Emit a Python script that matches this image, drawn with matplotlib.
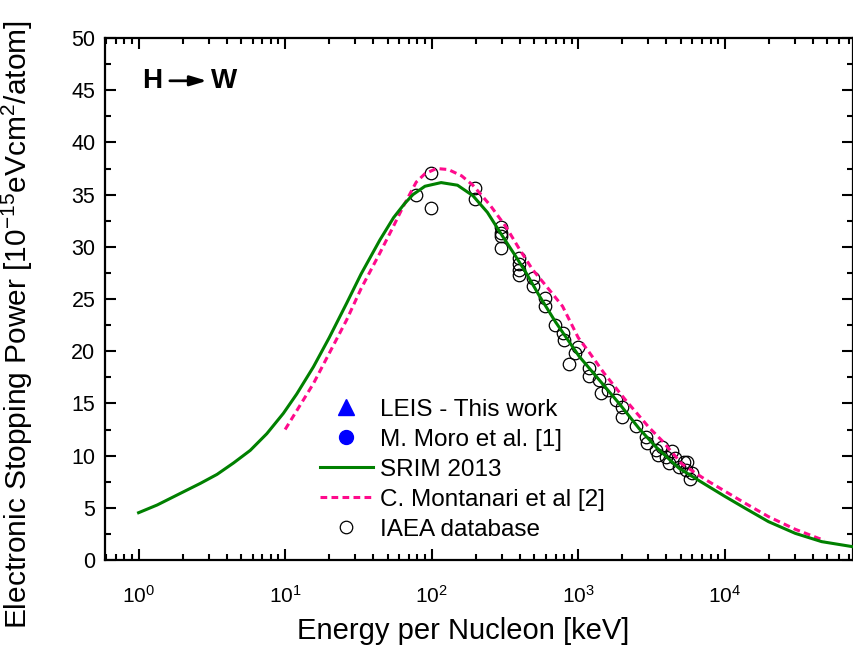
import numpy as np
import matplotlib
matplotlib.use("Agg")
import matplotlib.pyplot as plt
from matplotlib.ticker import MultipleLocator, LogLocator

plt.rcParams["font.family"] = ["Liberation Sans", "DejaVu Sans"]
plt.rcParams["mathtext.fontset"] = "custom"
plt.rcParams["mathtext.rm"] = "Liberation Sans"
plt.rcParams["mathtext.it"] = "Liberation Sans:italic"
plt.rcParams["mathtext.bf"] = "Liberation Sans:bold"

# SRIM 2013 curve (keV/u, 1e-15 eV cm2/atom)
srim_e = [1, 1.34, 2.03, 2.64, 3.43, 4.45, 5.78, 7.5, 9.73, 12, 15.6, 20, 26.3, 33, 44.3,
          55, 65, 74.5, 90, 116, 150, 191, 240, 305, 370, 441, 543, 700, 1016, 1400,
          1900, 2600, 3380, 4860, 6500, 10000, 13800, 19900, 30300, 45800, 75000]
srim_s = [4.53, 5.27, 6.54, 7.34, 8.2, 9.3, 10.5, 12.1, 14.05, 15.9, 18.5, 21.3, 24.6, 27.4, 30.65,
          32.8, 34.1, 35.0, 35.8, 36.15, 35.9, 34.9, 33.3, 31.0, 29.2, 27.5, 25.3, 22.8, 19.5, 17.2,
          15.0, 12.6, 10.85, 8.8, 7.7, 6.1, 4.95, 3.67, 2.55, 1.76, 1.27]

# C. Montanari et al.
mont_e = [10, 12, 15.6, 20, 26.3, 33, 44.3, 55, 63.6, 78.5, 90, 108, 130, 160, 191, 250,
          322, 400, 489, 600, 782, 1000, 1188, 1500, 2110, 3040, 3750, 5100, 7390, 10000,
          13800, 19900, 30300, 43600, 48000]
mont_s = [12.5, 14.3, 16.9, 19.8, 23.0, 26.0, 29.4, 32.0, 33.8, 36.2, 37.0, 37.5, 37.4, 36.8, 35.9, 34.0,
          31.9, 29.7, 27.8, 26.3, 24.3, 21.3, 19.9, 17.9, 15.3, 12.7, 11.4, 9.2, 7.7, 6.6,
          5.43, 4.15, 2.94, 2.08, 1.9]

# IAEA database points
iaea_e = [78.5, 99, 99, 198, 198, 297, 297, 297, 297, 397, 397, 397, 397, 494, 494,
          593, 593, 690, 782, 805, 869, 950, 990, 1188, 1188, 1390, 1430, 1590, 1800,
          2000, 2000, 2470, 2890, 2960, 3380, 3530, 3740, 3950, 4160, 4380, 4600,
          4860, 5260, 5410, 5550, 5800, 6000]
iaea_s = [35.0, 37.1, 33.75, 35.6, 34.6, 31.9, 31.3, 31.0, 29.85, 28.9, 28.4, 27.8, 27.3, 27.0, 26.2,
          25.1, 24.3, 22.5, 21.7, 21.1, 18.8, 19.8, 20.4, 18.4, 17.6, 17.2, 16.0, 16.3, 15.3,
          14.7, 13.7, 12.8, 11.8, 11.2, 10.5, 10.06, 10.85, 9.9, 9.26, 10.4, 9.74,
          8.9, 9.4, 8.6, 9.4, 7.8, 8.3]

fig = plt.figure(figsize=(8.54, 6.51), dpi=100)
ax = fig.add_axes([105 / 854, 91 / 651, 748 / 854, 522 / 651])

ax.plot([], [], "^", color="#0000ff", markersize=11, linestyle="none", label="LEIS - This work")
ax.plot([], [], "o", color="#0000ff", markersize=10, linestyle="none", label="M. Moro et al. [1]")
ax.plot(srim_e, srim_s, color="#008000", lw=2.2, label="SRIM 2013", zorder=4)
ax.plot(mont_e, mont_s, color="#ff0a8c", lw=2.2, dashes=(2.2, 1.4), label="C. Montanari et al [2]", zorder=3)
ax.plot(iaea_e, iaea_s, "o", mfc="none", mec="black", mew=0.9, markersize=9,
        linestyle="none", label="IAEA database", zorder=2)

ax.set_xscale("log")
ax.set_xlim(0.59, 7.5e4)
ax.set_ylim(0, 50)
ax.yaxis.set_major_locator(MultipleLocator(5))
ax.yaxis.set_minor_locator(MultipleLocator(2.5))
ax.xaxis.set_major_locator(LogLocator(base=10, numticks=10))
ax.xaxis.set_minor_locator(LogLocator(base=10, subs=np.arange(2, 10), numticks=10))

for s in ax.spines.values():
    s.set_linewidth(1.6)
ax.tick_params(which="both", direction="in", top=True, right=True, width=1.5)
ax.tick_params(which="major", length=8)
ax.tick_params(which="minor", length=4)
ax.tick_params(axis="x", which="major", pad=18, labelsize=15)
ax.tick_params(axis="y", which="major", pad=7, labelsize=15.5)

ax.set_xlabel("Energy per Nucleon [keV]", fontsize=21)
ax.xaxis.set_label_coords(0.479, -0.11)
ax.set_ylabel("Electronic Stopping Power [10$^{-15}$eVcm$^{2}$/atom]", fontsize=21.5, va="center")
ax.yaxis.set_label_coords(-0.117, 0.45)

ax.text(0.063, 0.918, "H", transform=ax.transAxes, fontsize=20, fontweight="bold",
        ha="center", va="center")
ax.text(0.159, 0.918, "W", transform=ax.transAxes, fontsize=20, fontweight="bold",
        ha="center", va="center")
ax.annotate("", xy=(0.140, 0.918), xytext=(0.083, 0.918), xycoords="axes fraction",
            arrowprops=dict(arrowstyle="-|>,head_length=1.0,head_width=0.3", color="black", lw=2))

ax.legend(loc="upper left", bbox_to_anchor=(0.287, 0.309), frameon=False, fontsize=17.5,
          handlelength=2.2, handletextpad=0.3, labelspacing=0.33, borderaxespad=0, borderpad=0)

fig.savefig("out.png", dpi=100)
